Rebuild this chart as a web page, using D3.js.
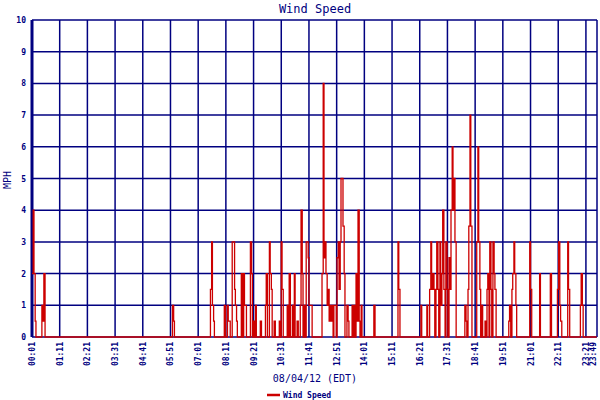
<!DOCTYPE html>
<html><head><meta charset="utf-8">
<script src="https://cdn.jsdelivr.net/npm/d3@7"></script>
<style>body{margin:0;background:#fff}</style>
</head><body><svg id="c" width="600" height="400"></svg>
<script>
const tickMinutes=[1,71,141,211,281,351,421,491,561,631,701,771,841,911,981,1051,1121,1191,1261,1331,1401,1429];
const tickLabels=["00:01","01:11","02:21","03:31","04:41","05:51","07:01","08:11","09:21","10:31","11:41","12:51","14:01","15:11","16:21","17:31","18:41","19:51","21:01","22:11","23:21","23:49"];
const yTicks=[0,1,2,3,4,5,6,7,8,9,10];
const minutes=[1,4,6,9,11,24,26,29,31,34,354,356,359,361,450,452,455,457,460,462,485,487,490,495,497,500,502,505,507,510,513,515,518,520,528,530,533,536,538,541,543,550,553,556,558,561,563,566,568,576,578,581,588,591,593,596,598,601,603,606,608,611,613,616,623,626,628,631,633,636,644,646,649,651,654,656,659,661,664,666,669,671,674,679,681,684,686,689,691,694,696,699,701,704,707,709,719,732,734,737,739,742,744,747,749,752,754,757,759,762,764,767,770,772,775,777,780,782,785,787,790,792,795,797,800,802,807,810,812,815,817,820,823,825,828,830,833,835,863,865,868,923,926,928,931,981,984,986,996,999,1001,1004,1006,1009,1011,1014,1017,1019,1022,1024,1027,1029,1032,1034,1037,1039,1042,1045,1047,1050,1052,1055,1057,1060,1063,1065,1068,1070,1073,1092,1095,1098,1100,1103,1105,1108,1110,1113,1122,1125,1128,1130,1133,1135,1138,1140,1143,1146,1148,1151,1153,1156,1158,1161,1163,1166,1169,1171,1174,1203,1206,1208,1211,1214,1216,1219,1221,1224,1226,1256,1259,1261,1264,1281,1284,1286,1309,1311,1314,1327,1329,1332,1335,1337,1340,1352,1355,1357,1360,1384,1387,1389,1392,1394,1428];
const speeds=[2,4,2,0.5,0,0,1,0.5,2,0,0,1,0.5,0,0,1.5,3,1,0.5,0,0,1,0,1,0.5,0.5,0,0,3,3,1.5,1,0.5,0,0,2,0,2,1,1,0,0,3,2,0,0.5,0,1,0,0,0.5,0,0,1,2,0,0,3,2,1.5,0,0,0.5,0,0,0.5,0,3,1.5,0,0,1,0,2,0,0,1,0,2,0,0,0.5,0,1,4,2,0,1,0,3,3,2.5,1,1,1,0,0,0,2,8,2.5,3,2,1,1.5,0.5,1,0.5,1,0,1,1,0,2.5,3,1.5,3,5,5,3.5,2,0,0,1,0.5,0,0,1,0,1,0,2,0.5,4,0.5,0,1,0,0,1,0,0,3,1.5,0,0,1,0,0,1,0,0,1.5,3,1.5,2,1.5,0,1.5,3,1.5,0,3,1,2,4,1.5,0,3,1.5,0,2.5,1.5,4,6,4,5,3,0,0,1,0.5,0,1.5,3.5,7,3.5,0,0,3,6,3,1.5,0,1,0,0,0.5,0,1.5,2,0,3,1.5,0,3,2,1.5,0,0,0.5,1,0,1.5,2,3,2,1,0,0,3,1.5,0,0,2,0,0,2,0,0,1.5,3,1,0.5,0,0,3,1.5,0,0,1,2,1,0,0];
const svg=d3.select("#c");
const navy="#000080", red="#cc0000";
const x=d3.scaleLinear().domain([1,1429]).range([32,597]);
const y=d3.scaleLinear().domain([0,10]).range([337,20]);
const font="'DejaVu Sans Mono', monospace";
svg.append("g").selectAll("line").data(yTicks).join("line")
 .attr("x1",32).attr("x2",597).attr("y1",d=>y(d)).attr("y2",d=>y(d))
 .attr("stroke",navy).attr("stroke-width",1.5);
svg.append("g").selectAll("line").data(tickMinutes).join("line")
 .attr("x1",d=>x(d)).attr("x2",d=>x(d)).attr("y1",20).attr("y2",337)
 .attr("stroke",navy).attr("stroke-width",1.5);
svg.append("line").attr("x1",32).attr("x2",32).attr("y1",20).attr("y2",337).attr("stroke",navy).attr("stroke-width",3);
const pts=minutes.map((m,i)=>[m,speeds[i]]);
svg.append("path").datum(pts).attr("fill","none").attr("stroke",red).attr("stroke-width",1.3)
 .attr("d",d3.line().curve(d3.curveStepAfter).x(d=>x(d[0])).y(d=>y(d[1])));
svg.append("g").selectAll("text").data(yTicks).join("text")
 .attr("x",26).attr("y",d=>y(d)+3).attr("text-anchor","end")
 .attr("font-family",font).attr("font-size",8).attr("font-weight","bold").attr("fill",navy).text(d=>d);
svg.append("g").selectAll("text").data(tickMinutes).join("text")
 .attr("transform",d=>`translate(${Math.min(x(d)+3,596)},342) rotate(-90)`).attr("text-anchor","end")
 .attr("font-family",font).attr("font-size",8).attr("font-weight","bold").attr("fill",navy)
 .text((d,i)=>tickLabels[i]);
svg.append("text").attr("x",315).attr("y",13).attr("text-anchor","middle").attr("font-family",font)
 .attr("font-size",12).attr("fill",navy).text("Wind Speed");
svg.append("text").attr("transform","translate(11,180) rotate(-90)").attr("text-anchor","middle")
 .attr("font-family",font).attr("font-size",10).attr("fill",navy).text("MPH");
svg.append("text").attr("x",315).attr("y",382).attr("text-anchor","middle").attr("font-family",font)
 .attr("font-size",10).attr("fill",navy).text("08/04/12 (EDT)");
svg.append("line").attr("x1",267).attr("x2",280).attr("y1",395).attr("y2",395).attr("stroke",red).attr("stroke-width",2.5);
svg.append("text").attr("x",283).attr("y",398).attr("font-family",font).attr("font-size",8)
 .attr("font-weight","bold").attr("fill",navy).text("Wind Speed");
</script></body></html>
